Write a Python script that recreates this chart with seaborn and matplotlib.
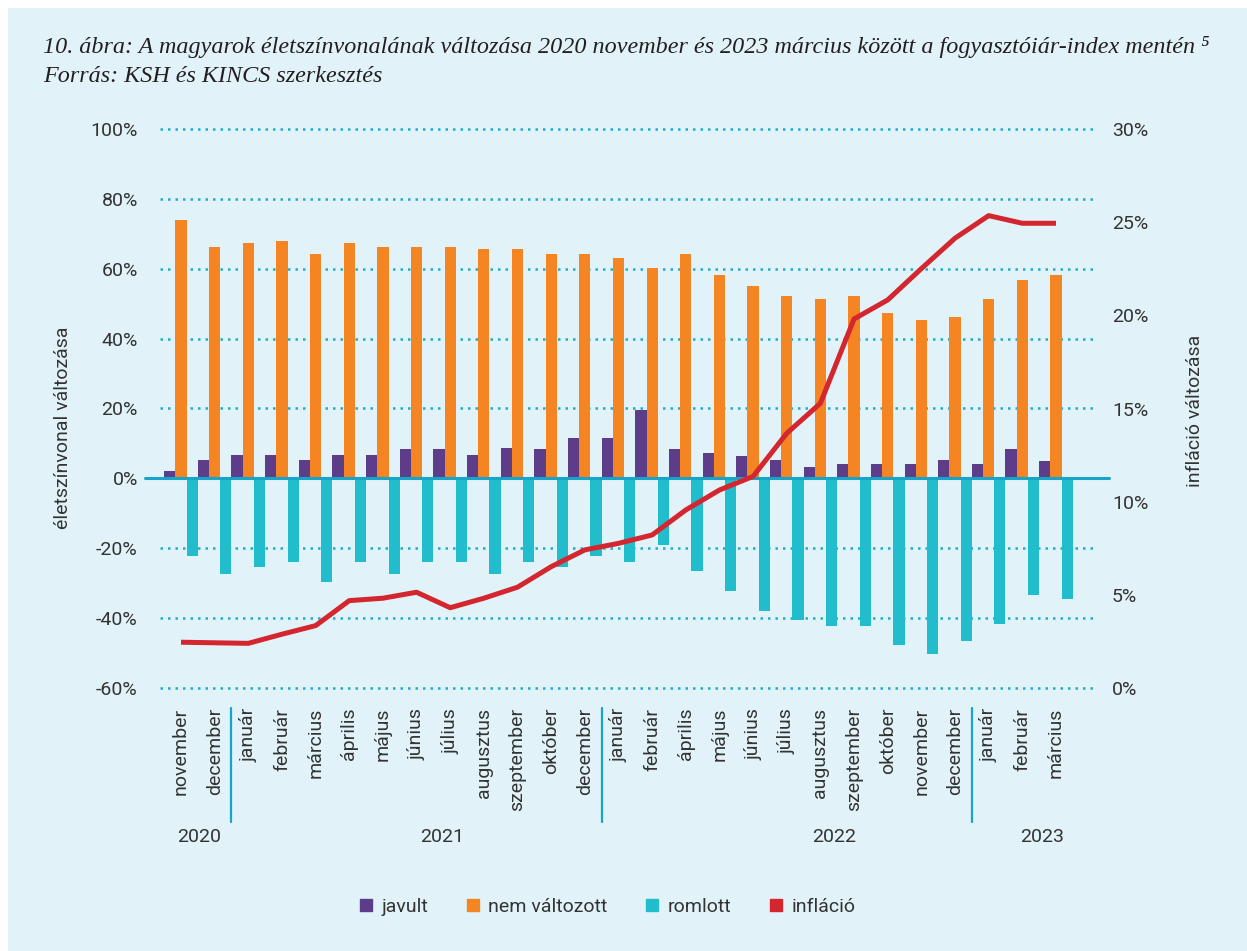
import numpy as np
import pandas as pd
import seaborn as sns
import matplotlib.pyplot as plt
import matplotlib.transforms as mtransforms
from matplotlib.patches import Rectangle
from matplotlib.lines import Line2D

# --- data ---
periods = ["2020-11", "2020-12",
           "2021-01", "2021-02", "2021-03", "2021-04", "2021-05", "2021-06",
           "2021-07", "2021-08", "2021-09", "2021-10", "2021-12",
           "2022-01", "2022-02", "2022-04", "2022-05", "2022-06", "2022-07",
           "2022-08", "2022-09", "2022-10", "2022-11", "2022-12",
           "2023-01", "2023-02", "2023-03"]
months = ["november", "december",
          "január", "február", "március", "április", "május", "június",
          "július", "augusztus", "szeptember", "október", "december",
          "január", "február", "április", "május", "június", "július",
          "augusztus", "szeptember", "október", "november", "december",
          "január", "február", "március"]
years = ["2020", "2021", "2022", "2023"]

javult = [2.2, 5.4, 6.8, 6.8, 5.4, 6.8, 6.8, 8.5, 8.5, 6.8, 8.8, 8.5, 11.7,
          11.7, 19.7, 8.5, 7.4, 6.3, 5.4, 3.4, 4.0, 4.0, 4.0, 5.4,
          4.0, 8.5, 5.1]
nem_valtozott = [73.8, 66.1, 67.2, 67.8, 64.3, 67.2, 66.1, 66.1, 66.1, 65.5, 65.5, 64.3, 64.3,
                 62.9, 60.3, 64.3, 58.3, 54.9, 52.3, 51.4, 52.3, 47.4, 45.4, 46.3,
                 51.4, 56.6, 58.3]
romlott = [-22.3, -27.4, -25.2, -24.0, -29.7, -24.0, -27.4, -24.0, -24.0, -27.4, -24.0, -25.2, -22.3,
           -24.0, -18.9, -26.6, -32.3, -37.8, -40.6, -42.3, -42.3, -47.5, -50.1, -46.6,
           -41.5, -33.2, -34.6]
inflacio = [2.47, 2.44, 2.41, 2.9, 3.36, 4.70, 4.83, 5.15, 4.32, 4.83, 5.42, 6.52, 7.42,
            7.77, 8.22, 9.56, 10.63, 11.36, 13.67, 15.28, 19.80, 20.82, 22.5, 24.13,
            25.34, 24.93, 24.93]

series_names = ["javult", "nem változott", "romlott"]
colors = ["#5D3D89", "#F58423", "#21BDCC"]
red = "#D4262E"
grid_c = "#1BAFCD"
axis_c = "#16A4C9"
text_c = "#333333"
bg = "#E1F3F8"

rows = []
for name, vals in zip(series_names, [javult, nem_valtozott, romlott]):
    for p, v in zip(periods, vals):
        rows.append({"period": p, "series": name, "value": v})
df = pd.DataFrame(rows)

sns.set_style("white")
plt.rcParams["font.family"] = ["Roboto", "DejaVu Sans"]

fig = plt.figure(figsize=(12.47, 9.51), dpi=100)
fig.patch.set_facecolor("white")
fig.add_artist(Rectangle((8 / 1247, 0), 1, 1 - 8 / 951, transform=fig.transFigure,
                         facecolor=bg, edgecolor="none", zorder=-10))

ax = fig.add_axes([160 / 1247, 1 - 688.3 / 951, 934 / 1247, 559.6 / 951])
ax.patch.set_alpha(0)

sns.barplot(data=df, x="period", y="value", hue="series", order=periods,
            hue_order=series_names, palette=colors, width=1.0, gap=0,
            saturation=1, errorbar=None, linewidth=0, legend=False, ax=ax, zorder=2)

for v in [-60, -40, -20, 20, 40, 60, 80, 100]:
    ax.axhline(v, color=grid_c, lw=1.8, ls=(0, (1, 2)), zorder=0, clip_on=False)
ax.axhline(0, xmin=-0.0156, xmax=1.0158, color=axis_c, lw=2.2, clip_on=False, zorder=3)

ax.set_ylim(-60, 100)
ax.set_yticks(range(-60, 101, 20))
ax.set_yticklabels([f"{v}%" for v in range(-60, 101, 20)])
ax.set_xticks(range(len(periods)))
ax.set_xticklabels(months, rotation=90)
ax.tick_params(axis="y", length=0, pad=16, labelsize=14, labelcolor=text_c)
ax.tick_params(axis="x", length=0, pad=14, labelsize=14, labelcolor=text_c)
ax.set_xlabel("")
ax.set_ylabel("")
sns.despine(ax=ax, left=True, bottom=True)

ax2 = ax.twinx()
sns.lineplot(x=np.arange(len(periods)), y=inflacio, ax=ax2, color=red, lw=3.6,
             solid_capstyle="butt", zorder=4)
ax2.set_ylim(0, 30)
ax2.set_yticks(range(0, 31, 5))
ax2.set_yticklabels([f"{v}%" for v in range(0, 31, 5)])
ax2.tick_params(axis="y", length=0, pad=13, labelsize=14, labelcolor=text_c)
for s in ax2.spines.values():
    s.set_visible(False)
ax.set_xlim(-0.624, 27.13)

# axis titles
fig.text(63 / 1247, 1 - 428 / 951, "életszínvonal változása", rotation=90,
         ha="center", va="center", fontsize=14, color=text_c)
fig.text(1195 / 1247, 1 - 411 / 951, "infláció változása", rotation=90,
         ha="center", va="center", fontsize=14, color=text_c)

# year groups under the month labels
blend = mtransforms.blended_transform_factory(ax.transData, fig.transFigure)
year_x = [0.53, 7.77, 19.4, 25.6]
for yx, yl in zip(year_x, years):
    ax.text(yx, 1 - 837 / 951, yl, transform=blend, ha="center", va="center",
            fontsize=14, color=text_c)
for sx in [1.5, 12.5, 23.5]:
    ax.add_line(Line2D([sx, sx], [1 - 708 / 951, 1 - 822 / 951], transform=blend,
                       color=axis_c, lw=1.6, clip_on=False))

# title
fig.text(43 / 1247, 1 - 47 / 951,
         "10. ábra: A magyarok életszínvonalának változása 2020 november és 2023 március "
         "között a fogyasztóiár-index mentén \u2075",
         ha="left", va="center", fontsize=17.4, style="italic", color="#231F20",
         family=["Liberation Serif", "DejaVu Serif"])
fig.text(43 / 1247, 1 - 77 / 951, "Forrás: KSH és KINCS szerkesztés",
         ha="left", va="center", fontsize=17.4, style="italic", color="#231F20",
         family=["Liberation Serif", "DejaVu Serif"])

# legend
handles = [Line2D([], [], marker="s", ls="none", markersize=9, color=c) for c in colors + [red]]
fig.legend(handles, series_names + ["infláció"], loc="center",
           bbox_to_anchor=(607 / 1247, 1 - 907 / 951), ncol=4, frameon=False,
           fontsize=14, handlelength=0.8, handletextpad=0.4, columnspacing=1.9,
           labelcolor=text_c)

plt.savefig("out.png", dpi=100, facecolor=fig.get_facecolor())
